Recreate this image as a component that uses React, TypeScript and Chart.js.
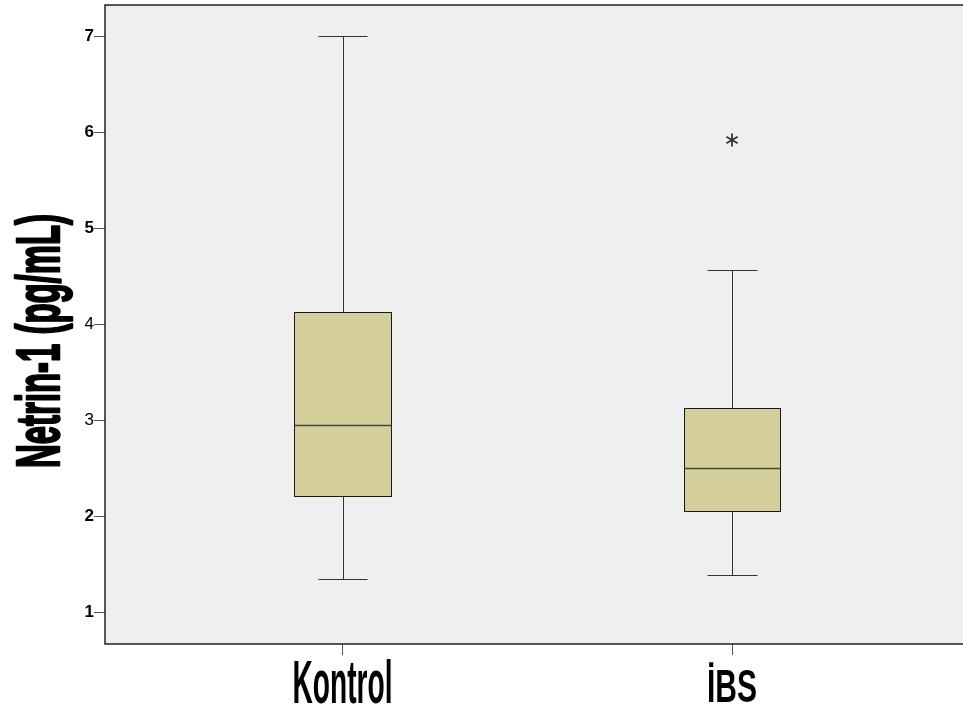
import React, { useEffect, useRef } from "react";
import { Chart, registerables } from "chart.js";

Chart.register(...registerables);

// ---- data ----
const CATEGORIES = ["Kontrol", "İBS"];
const X_POS = [0, 1];
const WHISKER_LOW = [1.354, 1.396];
const Q1 = [2.211, 2.063];
const MEDIAN = [2.951, 2.51];
const Q3 = [4.135, 3.135];
const WHISKER_HIGH = [7.0, 4.573];
const OUTLIER_GROUP = [1];
const OUTLIER_VALUE = [5.922];
const Y_TICKS = [1, 2, 3, 4, 5, 6, 7];
const Y_TITLE = "Netrin-1 (pg/mL)";

const FONT = "'Liberation Sans', Arial, sans-serif";
const BOX_HALF = 0.124;
const CAP_HALF = 0.064;

const boxPlugin = {
  id: "boxPlot",
  beforeDraw(chart: any) {
    const { ctx, chartArea: a } = chart;
    ctx.save();
    ctx.fillStyle = "#efefef";
    ctx.fillRect(a.left, a.top, a.right - a.left, a.bottom - a.top);
    ctx.restore();
  },
  afterDatasetsDraw(chart: any) {
    const { ctx, chartArea: a } = chart;
    const xs = chart.scales.x;
    const ys = chart.scales.y;
    const snap = (v: number) => Math.round(v) + 0.5;
    ctx.save();
    for (let i = 0; i < CATEGORIES.length; i++) {
      const cx = snap(xs.getPixelForValue(X_POS[i]));
      const bl = Math.round(xs.getPixelForValue(X_POS[i] - BOX_HALF)) + 0.5;
      const br = Math.round(xs.getPixelForValue(X_POS[i] + BOX_HALF)) + 0.5;
      const cl = Math.round(xs.getPixelForValue(X_POS[i] - CAP_HALF)) + 0.5;
      const cr = Math.round(xs.getPixelForValue(X_POS[i] + CAP_HALF)) + 0.5;
      const yLo = snap(ys.getPixelForValue(WHISKER_LOW[i]));
      const yHi = snap(ys.getPixelForValue(WHISKER_HIGH[i]));
      const yQ1 = snap(ys.getPixelForValue(Q1[i]));
      const yQ3 = snap(ys.getPixelForValue(Q3[i]));
      const yMed = snap(ys.getPixelForValue(MEDIAN[i]));
      // whiskers
      ctx.strokeStyle = "#333333";
      ctx.lineWidth = 1;
      ctx.beginPath();
      ctx.moveTo(cx, yHi);
      ctx.lineTo(cx, yQ3);
      ctx.moveTo(cx, yQ1);
      ctx.lineTo(cx, yLo);
      ctx.moveTo(cl, yHi);
      ctx.lineTo(cr, yHi);
      ctx.moveTo(cl, yLo);
      ctx.lineTo(cr, yLo);
      ctx.stroke();
      // box
      ctx.fillStyle = "#d3ce9a";
      ctx.fillRect(bl, yQ3, br - bl, yQ1 - yQ3);
      ctx.strokeStyle = "#1a1a1a";
      ctx.lineWidth = 1;
      ctx.strokeRect(bl, yQ3, br - bl, yQ1 - yQ3);
      // median
      ctx.strokeStyle = "#45453a";
      ctx.lineWidth = 1.5;
      ctx.beginPath();
      ctx.moveTo(bl, yMed);
      ctx.lineTo(br, yMed);
      ctx.stroke();
    }
    // outliers (asterisks)
    for (let k = 0; k < OUTLIER_GROUP.length; k++) {
      const px = xs.getPixelForValue(X_POS[OUTLIER_GROUP[k]]);
      const py = ys.getPixelForValue(OUTLIER_VALUE[k]);
      const r = 6.5;
      ctx.strokeStyle = "#333333";
      ctx.lineWidth = 1.8;
      ctx.beginPath();
      for (const ang of [90, 30, 150]) {
        const t = (ang * Math.PI) / 180;
        ctx.moveTo(px - r * Math.cos(t), py - r * Math.sin(t));
        ctx.lineTo(px + r * Math.cos(t), py + r * Math.sin(t));
      }
      ctx.stroke();
    }
    // frame
    ctx.strokeStyle = "#222222";
    ctx.lineWidth = 1.5;
    ctx.beginPath();
    ctx.moveTo(a.right + 2, a.top);
    ctx.lineTo(a.left, a.top);
    ctx.lineTo(a.left, a.bottom);
    ctx.lineTo(a.right + 2, a.bottom);
    ctx.stroke();

    // x category labels (condensed)
    const xSpec = [
      { size: 61, width: 100, base: 703 },
      { size: 46, width: 50, base: 702 },
    ];
    for (let i = 0; i < CATEGORIES.length; i++) {
      const cx = xs.getPixelForValue(X_POS[i]);
      const s = xSpec[i];
      ctx.font = `bold ${s.size}px ${FONT}`;
      const w = ctx.measureText(CATEGORIES[i]).width;
      ctx.save();
      ctx.translate(cx, s.base);
      ctx.scale(s.width / w, 1);
      ctx.fillStyle = "#000";
      ctx.textAlign = "center";
      ctx.textBaseline = "alphabetic";
      ctx.fillText(CATEGORIES[i], 0, 0);
      ctx.restore();
    }
    // y title (rotated, condensed, heavy)
    ctx.font = `bold 62px ${FONT}`;
    const tw = ctx.measureText(Y_TITLE).width;
    ctx.save();
    ctx.translate(59, 341);
    ctx.rotate(-Math.PI / 2);
    ctx.scale(254 / tw, 1);
    ctx.fillStyle = "#000";
    ctx.strokeStyle = "#000";
    ctx.lineWidth = 2.5;
    ctx.lineJoin = "round";
    ctx.textAlign = "center";
    ctx.textBaseline = "alphabetic";
    ctx.fillText(Y_TITLE, 0, 0);
    ctx.strokeText(Y_TITLE, 0, 0);
    ctx.restore();
    ctx.restore();
  },
};

export default function App() {
  const ref = useRef<HTMLCanvasElement | null>(null);
  useEffect(() => {
    if (!ref.current) return;
    const chart = new Chart(ref.current, {
      type: "scatter",
      data: {
        datasets: [
          {
            data: OUTLIER_GROUP.map((g, k) => ({ x: X_POS[g], y: OUTLIER_VALUE[k] })),
            pointRadius: 0,
            pointHoverRadius: 0,
          },
        ],
      },
      options: {
        animation: false,
        responsive: false,
        devicePixelRatio: 1,
        events: [],
        layout: { padding: { top: 5, right: 0, bottom: 0, left: 0 } },
        plugins: { legend: { display: false }, tooltip: { enabled: false } },
        scales: {
          x: {
            type: "linear",
            min: -0.6098,
            max: 1.593,
            afterFit: (s: any) => {
              s.height = 74;
              s.paddingLeft = 0;
              s.paddingRight = 0;
            },
            afterBuildTicks: (s: any) => {
              s.ticks = X_POS.map((v) => ({ value: v }));
            },
            border: { display: false },
            grid: {
              drawOnChartArea: false,
              drawTicks: true,
              tickLength: 11,
              color: "#555555",
              lineWidth: 1,
            },
            ticks: { display: false },
          },
          y: {
            type: "linear",
            min: 0.674,
            max: 7.328,
            afterFit: (s: any) => {
              s.width = 105;
              s.paddingTop = 0;
              s.paddingBottom = 0;
            },
            afterBuildTicks: (s: any) => {
              s.ticks = Y_TICKS.map((v) => ({ value: v }));
            },
            border: { display: false },
            grid: {
              drawOnChartArea: false,
              drawTicks: true,
              tickLength: 11,
              color: "#555555",
              lineWidth: 1,
            },
            ticks: {
              padding: 0,
              color: "#000",
              callback: (v: any) => String(v),
              font: (c: any) => ({
                family: FONT,
                size: 17,
                weight: c.tick && (c.tick.value === 3 || c.tick.value === 4) ? "normal" : "bold",
              }),
            },
          },
        },
      },
      plugins: [boxPlugin],
    } as any);
    return () => chart.destroy();
  }, []);
  return (
    <div style={{ position: "absolute", left: 0, top: 0, width: 963, height: 718, background: "#fff" }}>
      <canvas ref={ref} width={963} height={718} style={{ display: "block" }} />
    </div>
  );
}
